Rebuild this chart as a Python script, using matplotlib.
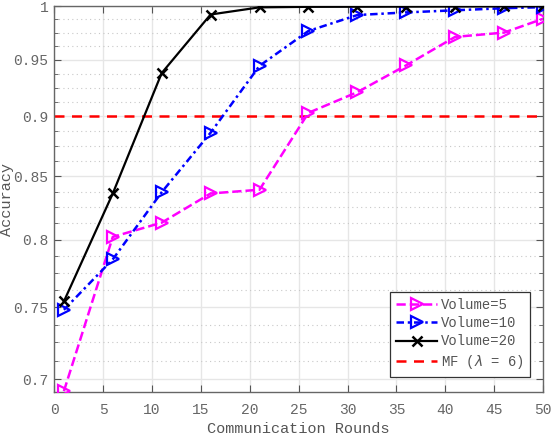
import numpy as np
import matplotlib
matplotlib.use('Agg')
import matplotlib.pyplot as plt
from matplotlib.ticker import FixedLocator, FixedFormatter, NullFormatter

rounds = [1, 6, 11, 16, 21, 26, 31, 36, 41, 46, 50]
acc_vol5 = [0.692, 0.802, 0.813, 0.836, 0.839, 0.903, 0.921, 0.945, 0.971, 0.975, 0.988]
acc_vol10 = [0.748, 0.785, 0.837, 0.886, 0.9445, 0.9765, 0.9915, 0.994, 0.996, 0.998, 0.999]
acc_vol20 = [0.754, 0.836, 0.938, 0.992, 0.9988, 0.9993, 0.9994, 0.9995, 0.9996, 0.9997, 0.9998]
mf_level = 0.9

y_major = [0.7, 0.75, 0.8, 0.85, 0.9, 0.95, 1.0]
y_labels = ['0.7', '0.75', '0.8', '0.85', '0.9', '0.95', '1']
x_major = [0, 5, 10, 15, 20, 25, 30, 35, 40, 45, 50]

plt.rcParams['font.family'] = ['Liberation Mono', 'DejaVu Sans Mono']
plt.rcParams['font.size'] = 10.5

fig = plt.figure(figsize=(5.52, 4.36), dpi=100)
ax = fig.add_axes([0.098, 0.101, 0.886, 0.885])

ax.plot(rounds, acc_vol5, color='magenta', linestyle='--', linewidth=1.8,
        marker='>', markersize=9, markerfacecolor='none', markeredgewidth=1.6,
        label='Volume=5', zorder=3)
ax.plot(rounds, acc_vol10, color='blue', linestyle=(0, (3, 1.5, 1, 1.5)), linewidth=1.8,
        marker='>', markersize=9, markerfacecolor='none', markeredgewidth=1.6,
        label='Volume=10', zorder=4)
ax.plot(rounds, acc_vol20, color='black', linestyle='-', linewidth=1.6,
        marker='x', markersize=7, markeredgewidth=1.8,
        label='Volume=20', zorder=5)
ax.axhline(mf_level, color='red', linestyle='--', linewidth=1.8,
           dashes=(4, 3), label='MF ($\\lambda$ = 6)', zorder=2)

ax.set_yscale('log')
ax.set_xlim(0, 50)
ax.set_ylim(0.6915, 1.0)

ax.yaxis.set_major_locator(FixedLocator(y_major))
ax.yaxis.set_major_formatter(FixedFormatter(y_labels))
minor = [v for v in np.arange(0.6875, 1.0, 0.0125) if all(abs(v - m) > 1e-6 for m in y_major)]
ax.yaxis.set_minor_locator(FixedLocator(minor))
ax.yaxis.set_minor_formatter(NullFormatter())
ax.set_xticks(x_major)

ax.grid(True, which='major', color='#e6e6e6', linewidth=1.0, linestyle='-', zorder=0)
ax.grid(True, which='minor', axis='y', color='#c8c8c8', linewidth=0.8, linestyle=(0, (1, 3)), zorder=0)
ax.set_axisbelow(True)

ax.tick_params(which='both', direction='in', top=True, right=True, colors='#555555',
               labelcolor='#666666', labelsize=10.5)
ax.tick_params(which='major', length=5)
ax.tick_params(which='minor', length=3)
ax.tick_params(axis='x', pad=8)
ax.tick_params(axis='y', pad=4)
for s in ax.spines.values():
    s.set_color('#666666')
    s.set_linewidth(1.0)

ax.set_xlabel('Communication Rounds', color='#555555', fontsize=11)
ax.set_ylabel('Accuracy', color='#555555', fontsize=11)
ax.yaxis.set_label_coords(-0.083, 0.5)
ax.xaxis.set_label_coords(0.5, -0.078)

leg = ax.legend(loc='lower right', bbox_to_anchor=(0.973, 0.039), borderaxespad=0,
                fancybox=False, edgecolor='#333333', framealpha=1, fontsize=10,
                handlelength=2.9, labelspacing=0.3, borderpad=0.45, handletextpad=0.3)
leg.get_frame().set_linewidth(0.9)
for t in leg.get_texts():
    t.set_color('#555555')

fig.savefig('out.png', dpi=100)
